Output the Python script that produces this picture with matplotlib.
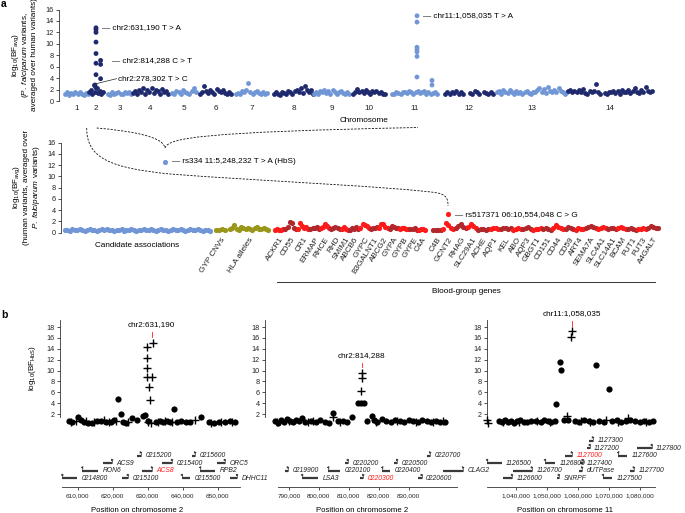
import numpy as np
import matplotlib
matplotlib.use("Agg")
import matplotlib.pyplot as plt
from matplotlib.path import Path
from matplotlib.patches import PathPatch
from matplotlib.transforms import blended_transform_factory

plt.rcParams['font.family'] = ['Liberation Sans', 'DejaVu Sans']
plt.rcParams['mathtext.fontset'] = 'custom'
plt.rcParams['mathtext.rm'] = 'Liberation Sans'
plt.rcParams['mathtext.it'] = 'Liberation Sans:italic'
plt.rcParams['mathtext.bf'] = 'Liberation Sans:bold'
nan = np.nan

# ---------------- panel a (top): P. falciparum variants ----------------
chrom_labels = ['1', '2', '3', '4', '5', '6', '7', '8', '9', '10', '11', '12', '13', '14']
chrom_start = [6, 30, 49, 74, 113, 141, 177, 215, 255, 294, 333, 386, 438, 509]
chrom_end = [29, 44, 72, 109, 137, 172, 208, 254, 290, 326, 378, 434, 508, 593]
chr1_vals = [1.2, 1.5, 1.1, 1.4, 1.3, 1.6, 1.2, 1.5, 1.3, 1.1, 1.4, 1.2]
chr2_vals = [1.5, 2.0, 1.3, 2.8, 1.6, 2.2, 1.4, 1.8, 1.2, 1.5]
chr3_vals = [1.3, 1.1, 1.5, 1.2, 1.4, 1.6, 1.3, 1.2, 1.5, 1.4, 1.6, 1.3]
chr4_vals = [1.4, 1.8, 1.2, 2.0, 1.5, 2.2, 1.3, 1.9, 1.6, 2.3, 1.4, 2.0, 1.7, 1.3, 2.1, 1.5, 1.8, 1.2]
chr5_vals = [1.4, 1.2, 1.8, 1.5, 1.3, 2.0, 1.6, 1.4, 1.2, 1.7, 2.2, 1.5]
chr6_vals = [1.2, 1.5, 2.6, 1.8, 1.4, 2.0, 1.6, 1.3, 2.1, 1.7, 1.5, 1.9, 1.4, 1.2, 1.6, 1.3]
chr7_vals = [1.2, 1.4, 1.3, 1.7, 1.5, 2.0, 3.2, 1.6, 1.3, 1.5, 1.8, 1.4, 1.2, 1.5, 1.3, 1.4]
chr8_vals = [1.2, 1.5, 1.3, 1.1, 1.6, 1.4, 1.3, 1.8, 1.5, 1.2, 1.7, 2.0, 1.6, 2.2, 1.4, 2.6, 1.9, 1.5, 2.0, 1.3]
chr9_vals = [1.3, 1.6, 1.2, 1.8, 1.5, 2.0, 1.4, 1.7, 1.3, 1.9, 1.6, 1.2, 1.5, 1.8, 1.4, 1.3, 1.5, 1.2]
chr10_vals = [1.3, 1.6, 2.1, 1.5, 1.8, 1.4, 1.9, 1.6, 1.3, 1.7, 1.5, 1.8, 1.4, 1.6, 1.3, 1.2]
chr11_vals = [1.3, 1.2, 1.5, 1.4, 1.3, 1.6, 1.5, 1.4, 1.7, 1.5, 1.3, 1.6, 1.8, 1.4, 1.5, 1.7, 1.3, 1.5, 1.2, 1.4, 1.6, 1.3]
chr12_vals = [1.3, 1.6, 1.2, 1.5, 1.4, 1.8, 1.3, 1.5, 1.2, nan, nan, 1.4, 1.3, 1.7, 1.5, 1.2, nan, 1.6, 1.4, 1.3, 1.5, 1.2]
chr13_vals = [1.5, 1.8, 1.3, 2.0, 1.6, 1.4, 1.9, 1.5, 1.3, 1.7, 1.4, 1.6, 1.2, 1.5, 1.8, 1.4, 1.3,
              1.6, 1.5, 1.9, 2.3, 1.6, 2.1, 1.4, 2.4, 1.8, 1.5, 2.0, 1.6, 2.2, 1.7, 1.5, 1.3, 1.6]
chr14_vals = [1.7, 2.0, 1.6, 1.8, 1.5, 1.9, 1.6, 2.1, 1.4, 1.3, 1.8, 1.5, 1.7, 2.9, 1.6, 1.3, nan, 1.4, 1.3, 1.6,
              1.5, 1.8, 1.4, 1.7, 1.3, 2.0, 1.6, 1.5, 1.9, 1.4, 1.8, 2.2, 1.6, 1.4, 1.9, 1.5, 2.4, 1.7, 1.5, 1.8]
chrom_vals = [chr1_vals, chr2_vals, chr3_vals, chr4_vals, chr5_vals, chr6_vals, chr7_vals,
              chr8_vals, chr9_vals, chr10_vals, chr11_vals, chr12_vals, chr13_vals, chr14_vals]
hit_chrom = [2, 2, 2, 2, 2, 2, 2, 2, 2, 2, 2, 2, 2, 11, 11, 11, 11, 11, 11, 11, 11, 11]
hit_pos = [37, 37, 37, 37, 37, 37, 37, 37, 41.6, 41.6, 41.6, 41.6, 36, 358, 358, 358, 358, 358, 358, 358, 373, 373]
hit_val = [12.8, 12.5, 12.0, 10.3, 8.3, 6.6, 4.6, 2.3, 7.1, 6.4, 3.9, 1.4, 2.8, 14.9, 13.8, 9.4, 9.0, 8.6, 7.8, 4.2, 3.6, 2.8]

# ---------------- panel a (bottom): human variants ----------------
cand_vals = [0.4, 0.5, 0.3, 0.6, 0.4, 0.5, 0.7, 0.4, 0.3, 0.5, 0.6, 0.4, 0.5, 0.3, 0.4, 0.6, 0.5, 0.7, 0.4, 0.5,
             0.3, 0.5, 0.4, 0.6, 0.3, 0.4, 0.5, 0.6, 0.4, 0.3, 0.5, 0.4, 0.6, 0.5, 0.4, 0.7, 0.5, 0.3, 0.4, 0.6,
             0.5, 0.4, 0.3, 0.5, 0.6, 0.4, 0.5, 0.7, 0.4, 0.3, 0.5, 0.6, 0.4, 0.5, 0.7, 0.4, 0.3, 0.5, 0.4, 0.3]
rs334_val = 12.6
gyp_vals = [0.4, 0.5, 0.6, 0.5]
hla_vals = [0.6, 0.9, 1.3, 0.7, 0.5, 1.1, 0.8, 0.6, 0.9, 0.7, 0.5, 0.8, 1.0, 0.7, 0.6, 0.9, 0.6, 0.5]
bg_genes = ['ACKR1', 'CD55', 'CR1', 'ERMAP', 'RHCE', 'RHD', 'SMIM1', 'ABCB6', 'GYPC', 'B3GALNT1', 'ABCG2',
            'GYPA', 'GYPB', 'GYPE', 'C4A',
            'C4B', 'GCNT2', 'RHAG', 'SLC29A1', 'ACHE', 'AQP1', 'KEL', 'ABO', 'AQP3', 'GBGT1', 'CD151', 'CD44',
            'CD59', 'ART4', 'SEMA7A', 'SLC4A1', 'SLC14A1', 'BCAM', 'FUT1', 'FUT3', 'A4GALT']
bg_vals = [
    [0.5, 0.6, 0.4, 0.5, 0.6], [0.6, 1.0, 1.9, 1.8, 0.8, 0.6], [0.7, 1.8, 1.2, 0.9, 1.0, 0.6],
    [0.6, 0.9, 0.8, 1.0, 0.7], [0.9, 1.1, 1.5, 1.2, 0.8], [0.7, 0.9, 1.0, 0.8, 0.6], [0.6, 1.1, 0.7, 0.5],
    [0.5, 0.8, 0.6, 1.0, 0.7], [0.9, 1.6, 1.4, 1.2, 0.8], [0.7, 0.9, 0.8, 1.0], [0.8, 1.6, 1.5, 1.1, 0.9],
    [0.7, 1.2, 1.0, 0.8, 0.9], [0.6, 0.8, 0.9, 0.7, 0.6], [0.7, 0.6, 0.8, 0.5], [0.5, 0.7, 0.6, 0.5],
    [0.4, 0.5, 0.4, 0.5], [0.6, 1.7, 1.3, 0.8, 0.7], [0.9, 1.2, 1.5, 1.0, 0.8], [1.1, 1.5, 1.2, 0.8],
    [0.5, 0.7, 0.6, 0.5, 0.6], [0.6, 0.8, 0.9, 0.7], [0.7, 0.9, 0.8, 0.6, 0.8], [0.5, 0.7, 0.9, 0.6],
    [0.6, 0.8, 1.0, 0.7], [0.5, 0.7, 0.6, 0.8], [0.6, 0.9, 0.7, 0.5], [0.8, 1.4, 1.0, 0.9, 0.7],
    [0.7, 1.0, 0.8, 0.6], [0.5, 0.8, 0.7, 0.6], [0.8, 1.1, 1.2, 1.0, 0.9], [0.7, 0.9, 1.0, 0.8],
    [0.6, 0.9, 0.8, 0.7], [0.8, 1.1, 0.9, 0.7], [0.6, 0.8, 0.7, 0.5], [0.6, 0.7, 0.9, 0.6],
    [0.8, 1.2, 1.0, 0.9, 0.8]]
n_group1 = 15
rs517371_val = 3.3

# ---------------- panel b ----------------
b1_circ_pos = [607.5, 608.5, 610.0, 611.0, 611.8, 613.0, 614.2, 615.5, 616.8, 618.0, 619.5, 620.5, 621.6, 622.3,
               623.0, 623.8, 625.6, 627.0, 628.7, 629.2, 630.0, 632.5, 633.5, 634.5, 635.5, 636.5, 637.6, 638.5,
               639.5, 641.0, 642.0, 645.3, 647.5, 649.0, 650.5, 652.0, 653.5, 655.0]
b1_circ_val = [0.8, 0.5, 1.4, 0.9, 0.6, 0.3, 0.4, 0.7, 0.8, 0.6, 0.5, 0.9, 4.7, 2.1, 0.6, 0.4, 1.3, 0.9, 1.7, 1.8,
               0.7, 0.5, 0.8, 0.6, 0.7, 0.5, 2.9, 0.6, 0.8, 0.5, 0.6, 1.4, 0.5, 0.4, 0.6, 0.5, 0.7, 0.6]
b1_plus_pos = [608.0, 609.5, 612.5, 614.8, 617.5, 619.0, 621.0, 624.5, 629.9, 629.8, 629.8, 629.9, 631.2, 630.4,
               630.7, 631.5, 630.2, 631.0, 633.0, 635.0, 637.0, 643.5, 648.0, 651.0, 654.0]
b1_plus_val = [0.6, 0.7, 0.8, 0.5, 0.9, 0.6, 0.7, 0.5, 14.3, 12.4, 10.4, 8.9, 8.9, 6.9, 4.6, 15.1, 0.5, 0.3, 0.6,
               0.7, 0.5, 1.0, 0.4, 0.5, 0.6]
b1_gene_names = ['0214800', '0215100', '0215500', 'DHHC11', 'RON6', 'ACS8', 'RPB2', 'ACS9', '0215400', 'ORC5',
                 '0215200', '0215600']
b1_gene_start = [605.6, 622.7, 639.8, 653.6, 611.3, 628.4, 645.0, 617.3, 634.1, 649.9, 627.0, 642.7]
b1_gene_end = [609.9, 624.4, 642.1, 655.6, 615.9, 631.3, 649.3, 619.9, 637.0, 652.1, 628.1, 643.6]
b1_gene_strand = [-1, 1, -1, 1, -1, 1, -1, 1, 1, 1, 1, 1]
b1_gene_row = [0, 0, 0, 0, 1, 1, 1, 2, 2, 2, 3, 3]
b1_ticks = [610, 620, 630, 640, 650]
b1_ticklabels = ['610,000', '620,000', '630,000', '640,000', '650,000']

b2_circ_pos = [785.5, 786.5, 787.5, 788.5, 789.5, 790.5, 791.5, 792.5, 793.5, 794.5, 795.5, 797.5, 799.0, 800.5,
               802.0, 803.5, 804.7, 806.3, 808.0, 809.5, 811.0, 813.2, 814.0, 815.0, 816.0, 817.6, 818.5, 819.5,
               821.0, 822.5, 824.0, 825.5, 827.0, 828.5, 830.0, 831.5, 833.0, 834.5, 836.0, 837.5, 839.0, 840.5,
               842.0]
b2_circ_val = [0.7, 0.4, 0.9, 0.6, 1.1, 0.8, 0.5, 1.0, 0.7, 1.3, 0.6, 0.8, 0.5, 0.9, 0.6, 0.4, 2.2, 0.7, 0.8, 0.6,
               1.4, 4.1, 4.0, 4.0, 0.7, 1.6, 0.9, 0.6, 1.1, 0.8, 0.5, 1.0, 0.7, 0.6, 0.9, 0.8, 0.6, 1.0, 0.7, 0.5,
               0.8, 0.6, 0.5]
b2_plus_pos = [786.0, 790.0, 796.5, 798.0, 804.7, 807.0, 814.3, 814.3, 814.0, 819.0, 826.0, 832.5, 838.0, 841.5]
b2_plus_val = [0.6, 0.8, 0.5, 0.7, 1.4, 0.6, 9.5, 8.6, 6.3, 0.6, 0.7, 0.5, 0.6, 0.7]
b2_gene_names = ['LSA3', '0220300', '0220600', '0219900', '0220100', '0220400', '0220200', '0220500', '0220700']
b2_gene_start = [794.4, 813.7, 833.1, 788.7, 803.1, 821.1, 808.8, 825.1, 836.1]
b2_gene_end = [799.7, 814.8, 834.3, 789.7, 807.1, 823.7, 809.7, 826.1, 837.1]
b2_gene_strand = [-1, 1, 1, 1, -1, -1, 1, 1, 1]
b2_gene_row = [0, 0, 0, 1, 1, 1, 2, 2, 3]
b2_ticks = [790, 800, 810, 820, 830]
b2_ticklabels = ['790,000', '800,000', '810,000', '820,000', '830,000']

b3_circ_pos = [1034.5, 1035.5, 1036.5, 1037.5, 1038.5, 1039.5, 1040.5, 1041.5, 1042.5, 1043.5, 1045.0, 1046.5,
               1048.0, 1049.0, 1050.5, 1051.5, 1052.5, 1053.0, 1054.3, 1054.6, 1055.5, 1057.0, 1059.0, 1060.5,
               1062.0, 1063.5, 1065.0, 1065.8, 1067.0, 1068.5, 1070.2, 1071.0, 1072.5, 1074.0, 1075.5, 1077.0,
               1078.5, 1080.0, 1081.5, 1083.0, 1084.3]
b3_circ_val = [0.7, 0.5, 0.9, 0.6, 0.8, 0.4, 0.7, 0.9, 0.6, 0.5, 0.8, 0.7, 0.6, 0.9, 0.8, 0.5, 0.7, 3.8, 11.6, 10.1,
               0.9, 1.0, 0.8, 0.6, 0.9, 0.7, 0.6, 11.0, 0.8, 0.5, 6.6, 0.7, 0.9, 0.6, 0.8, 1.0, 0.7, 0.5, 0.8, 0.6,
               0.7]
b3_plus_pos = [1030.8, 1031.0, 1036.0, 1041.0, 1047.0, 1051.0, 1056.6, 1057.8, 1058.2, 1061.0, 1064.0, 1069.0,
               1073.0, 1076.3, 1082.0]
b3_plus_val = [0.9, 0.4, 0.6, 0.5, 0.7, 0.6, 1.6, 16.1, 17.3, 0.8, 0.6, 0.9, 0.5, 1.3, 0.6]
b3_gene_names = ['1126600', 'SNRPF', '1127500', 'CLAG2', '1126700', 'dUTPase', '1127700', '1126500', '1126800',
                 '1127400', '1127000', '1127600', '1127200', '1127800', '1127300']
b3_gene_start = [1035.9, 1053.3, 1068.1, 1016.5, 1039.1, 1060.4, 1076.9, 1030.7, 1049.4, 1060.7, 1055.9, 1073.0,
                 1063.0, 1079.1, 1063.6]
b3_gene_end = [1038.8, 1053.9, 1071.0, 1023.0, 1045.2, 1061.4, 1078.1, 1035.5, 1052.7, 1061.6, 1058.1, 1075.9,
               1063.9, 1083.9, 1064.9]
b3_gene_strand = [1, 1, -1, 1, 1, 1, 1, -1, -1, 1, 1, -1, 1, 1, 1]
b3_gene_row = [0, 0, 0, 1, 1, 1, 1, 2, 2, 2, 3, 3, 4, 4, 5]
b3_ticks = [1040, 1050, 1060, 1070, 1080]
b3_ticklabels = ['1,040,000', '1,050,000', '1,060,000', '1,070,000', '1,080,000']

# ---------------- styling ----------------
LIGHT = '#7096d6'
DARK = '#1f2a6e'
OLIVE = '#9a9619'
RED = '#ff1a1a'
DRED = '#b0282c'
AXC = '#333333'
FS = 5.9

W, H = 685, 513
fig = plt.figure(figsize=(6.85, 5.13), dpi=100)


def px_axes(l, t, r, b):
    return fig.add_axes([l / W, 1 - b / H, (r - l) / W, (b - t) / H])


def fpt(x, y):
    return (x / W, 1 - y / H)


def style_left(ax, ylabsize=5.3):
    for s in ['top', 'right', 'bottom']:
        ax.spines[s].set_visible(False)
    ax.spines['left'].set_color(AXC)
    ax.spines['left'].set_linewidth(0.6)
    ax.tick_params(axis='y', length=2.2, width=0.6, color=AXC, labelsize=ylabsize, pad=1.5, labelcolor='#222')
    ax.patch.set_visible(False)


# ======== panel a top ========
ax1 = px_axes(59, 9.5, 655, 101)
for i, vals in enumerate(chrom_vals):
    xs = np.linspace(chrom_start[i], chrom_end[i], len(vals))
    ax1.scatter(xs, vals, s=12, color=(LIGHT if i % 2 == 0 else DARK), lw=0, clip_on=False, zorder=2)
hit_cols = [LIGHT if c % 2 == 1 else DARK for c in hit_chrom]
ax1.scatter(hit_pos, hit_val, s=12, c=hit_cols, lw=0, clip_on=False, zorder=3)
ax1.set_xlim(0, 596)
ax1.set_ylim(0, 16)
ax1.set_yticks(range(0, 17, 2))
style_left(ax1)
centers = [(a + b) / 2 for a, b in zip(chrom_start, chrom_end)]
ax1.set_xticks(centers, chrom_labels)
ax1.tick_params(axis='x', length=0, pad=3, labelsize=FS, labelcolor='#222')
ax1.text(43, 12.8, '\u2014 chr2:631,190 T > A', fontsize=FS, va='center')
ax1.text(52.7, 7.0, '\u2014 chr2:814,288 C > T', fontsize=FS, va='center')
ax1.plot([36.5, 57.5], [3.0, 3.9], color='#222', lw=0.5)
ax1.text(59, 3.95, 'chr2:278,302 T > C', fontsize=FS, va='center')
ax1.text(364.3, 14.9, '\u2014 chr11:1,058,035 T > A', fontsize=FS, va='center')
fig.text(*fpt(364, 121), 'Chromosome', fontsize=FS, ha='center', va='center')
for xp, line in zip([16, 26, 35], [r'log$_{10}$(BF$_{\rm avg}$)', r'($\it{P.\ falciparum}$ variants,',
                                     'averaged over human variants)']):
    fig.text(*fpt(xp, 55), line, rotation=90, fontsize=FS, ha='center', va='center')

# ======== panel a bottom ========
ax2 = px_axes(61, 142.7, 661, 232.7)
cand_x = np.linspace(4, 149, len(cand_vals))
gyp_x = np.linspace(155, 164, len(gyp_vals))
hla_x = np.linspace(169, 207, len(hla_vals))
MS2 = 14
ax2.scatter(cand_x, cand_vals, s=MS2, color=LIGHT, lw=0, clip_on=False, zorder=2)
ax2.scatter([104], [rs334_val], s=MS2, color=LIGHT, lw=0, clip_on=False, zorder=3)
ax2.scatter(gyp_x, gyp_vals, s=MS2, color=OLIVE, lw=0, clip_on=False, zorder=2)
ax2.scatter(hla_x, hla_vals, s=MS2, color=OLIVE, lw=0, clip_on=False, zorder=2)
n1 = sum(len(v) for v in bg_vals[:n_group1])
n2 = sum(len(v) for v in bg_vals[n_group1:])
gx1 = np.linspace(214, 364, n1)
gx2 = np.linspace(372, 597, n2)
gene_centers = []
k1 = k2 = 0
for gi, vals in enumerate(bg_vals):
    if gi < n_group1:
        xs = gx1[k1:k1 + len(vals)]
        k1 += len(vals)
    else:
        xs = gx2[k2:k2 + len(vals)]
        k2 += len(vals)
    gene_centers.append(xs.mean())
    ax2.scatter(xs, vals, s=MS2, color=(RED if gi % 2 == 0 else DRED), lw=0, clip_on=False, zorder=2)
gcnt2_x = gene_centers[bg_genes.index('GCNT2')]
ax2.scatter([gcnt2_x], [rs517371_val], s=MS2, color=RED, lw=0, clip_on=False, zorder=3)
ax2.set_xlim(0, 600)
ax2.set_ylim(0, 16)
ax2.set_yticks(range(0, 17, 2))
style_left(ax2)
ax2.set_xticks([gyp_x.mean(), hla_x.mean()] + gene_centers)
ax2.set_xticklabels(['GYP CNVs', 'HLA alleles'] + bg_genes, rotation=57, ha='right',
                    rotation_mode='anchor', fontsize=FS, color='#222')
ax2.tick_params(axis='x', length=0, pad=2.5)
ax2.text(gcnt2_x + 7, rs517371_val, '\u2014 rs517371 06:10,554,048 C > G', fontsize=FS, va='center')
ax2.text(110.7, rs334_val, '\u2014 rs334 11:5,248,232 T > A (HbS)', fontsize=FS, va='center')
tr2 = blended_transform_factory(ax2.transData, ax2.transAxes)
ax2.text(cand_x.mean(), -0.137, 'Candidate associations', fontsize=FS, ha='center', va='center',
         transform=tr2)
ax2.plot([gx1[0] + 2, gx2[-1] - 3], [-0.548, -0.548], color=AXC, lw=0.7, transform=tr2, clip_on=False)
ax2.text(405, -0.648, 'Blood-group genes', fontsize=FS, ha='center', va='center', transform=tr2)
for xp, line in zip([17, 27, 36], [r'log$_{10}$(BF$_{\rm avg}$)', '(human variants, averaged over',
                                     r'$\it{P.\ falciparum}$ variants)']):
    fig.text(*fpt(xp, 187), line, rotation=90, fontsize=FS, ha='center', va='center')

# ======== connectors (dashed) ========
def dashed_path(verts, codes):
    pts = [fpt(x, y) for x, y in verts]
    patch = PathPatch(Path(pts, codes), fill=False, ls=(0, (2.6, 1.6)), lw=0.6, ec='#111',
                      transform=fig.transFigure)
    fig.add_artist(patch)


C4 = Path.CURVE4
dashed_path([(86.7, 128), (86.5, 158), (110, 168), (170, 174), (260, 181), (400, 187), (438, 193),
             (446, 195), (448, 198), (448, 206)],
            [Path.MOVETO, C4, C4, C4, C4, C4, C4, C4, C4, C4])
dashed_path([(96.7, 128), (130, 131), (163, 136), (165, 148)], [Path.MOVETO, C4, C4, C4])
dashed_path([(165, 148), (168, 138), (200, 132), (418, 127.5)], [Path.MOVETO, C4, C4, C4])


# ======== panel b ========
def gene_track(axg, names, starts, ends, strands, rows, highlight, pxkb):
    for name, s, e, st, rw in zip(names, starts, ends, strands, rows):
        axg.plot([s, e], [rw, rw], color='#3a3a3a', lw=1.6, solid_capstyle='butt', clip_on=False)
        tip = e if st > 0 else s
        d = 1.6 / pxkb
        axg.plot([tip, tip], [rw, rw + 0.45], color='#3a3a3a', lw=0.5, clip_on=False)
        axg.annotate('', xy=(tip + st * d, rw + 0.45), xytext=(tip, rw + 0.45),
                     arrowprops=dict(arrowstyle='-|>', lw=0.5, color='#3a3a3a', mutation_scale=3,
                                     shrinkA=0, shrinkB=0), annotation_clip=False)
        axg.annotate(name, xy=(e, rw), xytext=(3.2, 0), textcoords='offset points', fontsize=4.9,
                     style='italic', va='center', ha='left', annotation_clip=False,
                     color=(RED if name == highlight else '#222'))


def panel_b(l, r, pxkb, anchor_kb, anchor_px, circ_p, circ_v, plus_p, plus_v, genes, highlight,
            ticks, ticklabels, peak_kb, peak_label, label_v, tick_v, xlab_px, spine_px=None):
    x0 = anchor_kb + (l - anchor_px) / pxkb
    x1 = anchor_kb + (r - anchor_px) / pxkb
    axs = px_axes(l, 318, r, 430)
    axs.scatter(circ_p, circ_v, s=20, color='black', lw=0, clip_on=False, zorder=2)
    axs.scatter(plus_p, plus_v, s=28, marker='+', color='black', lw=1.0, clip_on=False, zorder=3)
    axs.set_xlim(x0, x1)
    axs.set_ylim(-0.92, 19.67)
    axs.set_yticks(range(2, 19, 2))
    style_left(axs, 5.2)
    axs.spines['left'].set_bounds(1.4, 19.3)
    axs.set_xticks([])
    axs.text(peak_kb, label_v, peak_label, fontsize=FS, ha='center', va='center', clip_on=False)
    axs.plot([peak_kb, peak_kb], tick_v, color=RED, lw=0.6, clip_on=False)
    axg = px_axes(l, 437, r, 487)
    axg.set_xlim(x0, x1)
    axg.set_ylim(-1.16, 5.5)
    for s in ['top', 'right', 'left']:
        axg.spines[s].set_visible(False)
    axg.spines['bottom'].set_color(AXC)
    axg.spines['bottom'].set_linewidth(0.6)
    if spine_px is not None:
        axg.spines['bottom'].set_bounds(anchor_kb + (spine_px - anchor_px) / pxkb, x1)
    axg.set_yticks([])
    axg.set_xticks(ticks, ticklabels)
    axg.tick_params(axis='x', length=2.2, width=0.6, color=AXC, labelsize=4.6, pad=2, labelcolor='#222')
    axg.patch.set_visible(False)
    gene_track(axg, *genes, highlight, pxkb)
    fig.text(*fpt(xlab_px, 510), 'Position on chromosome ' + ('11' if anchor_kb > 1000 else '2'),
             fontsize=5.6, ha='center', va='center')
    return axs


axb1 = panel_b(60, 240, 3.5, 631.19, 151.7, b1_circ_pos, b1_circ_val, b1_plus_pos, b1_plus_val,
               (b1_gene_names, b1_gene_start, b1_gene_end, b1_gene_strand, b1_gene_row), 'ACS8',
               b1_ticks, b1_ticklabels, 631.19, 'chr2:631,190', 18.4, [16.1, 17.15], 137, spine_px=62)
axb2 = panel_b(265, 457, 3.0, 814.288, 361.7, b2_circ_pos, b2_circ_val, b2_plus_pos, b2_plus_val,
               (b2_gene_names, b2_gene_start, b2_gene_end, b2_gene_strand, b2_gene_row), '0220300',
               b2_ticks, b2_ticklabels, 814.288, 'chr2:814,288', 12.7, [10.6, 11.45], 362, spine_px=278)
axb3 = panel_b(487, 655, 3.1, 1058.035, 571.7, b3_circ_pos, b3_circ_val, b3_plus_pos, b3_plus_val,
               (b3_gene_names, b3_gene_start, b3_gene_end, b3_gene_strand, b3_gene_row), '1127000',
               b3_ticks, b3_ticklabels, 1058.035, 'chr11:1,058,035', 20.4, [18.2, 19.2], 565)
fig.text(*fpt(33, 368), r'log$_{10}$(BF$_{\rm HbS}$)', rotation=90, fontsize=FS, ha='center', va='center')

fig.text(*fpt(4, 4), 'a', fontsize=7.5, fontweight='bold', ha='center', va='center')
fig.text(*fpt(4, 315), 'b', fontsize=7.5, fontweight='bold', ha='center', va='center')

fig.savefig('out.png', dpi=100)
